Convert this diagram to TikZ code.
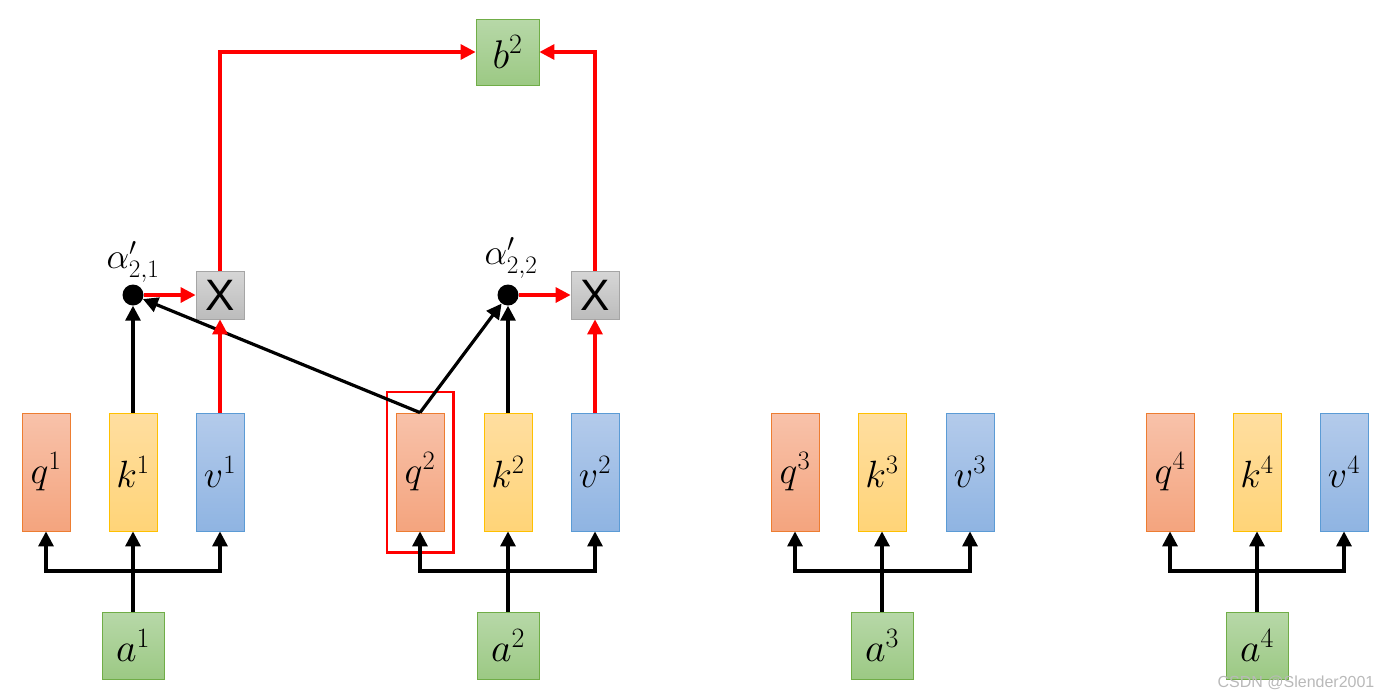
\RequirePackage{fix-cm}
\documentclass[tikz,border=0pt]{standalone}
\usepackage{amsmath, amssymb}
\usepackage{fontspec}
\setsansfont{Liberation Sans}
\usepackage{xcolor}
\usetikzlibrary{arrows.meta, positioning, fit}
\definecolor{qorange}{RGB}{237, 125, 49}
\definecolor{qtop}{RGB}{248, 194, 170}
\definecolor{qbot}{RGB}{244, 164, 126}
\definecolor{kyellow}{RGB}{255, 192, 0}
\definecolor{ktop}{RGB}{255, 222, 160}
\definecolor{kbot}{RGB}{255, 212, 120}
\definecolor{vblue}{RGB}{91, 155, 213}
\definecolor{vtop}{RGB}{180, 203, 235}
\definecolor{vbot}{RGB}{143, 180, 226}
\definecolor{agreen}{RGB}{112, 173, 71}
\definecolor{atop}{RGB}{183, 216, 168}
\definecolor{abot}{RGB}{156, 201, 132}
\definecolor{xgray}{RGB}{165, 165, 165}
\definecolor{xtop}{RGB}{214, 214, 214}
\definecolor{xbot}{RGB}{188, 188, 188}
\definecolor{linered}{RGB}{255, 0, 0}

\begin{document}
\begin{tikzpicture}[
    x=1pt, y=-1pt,
    vecbox/.style={rectangle, minimum width=48pt, minimum height=118pt, inner sep=0pt, line width=0.8pt, font=\fontsize{38}{40}\selectfont},
    qbox/.style={vecbox, draw=qorange, top color=qtop, bottom color=qbot},
    kbox/.style={vecbox, draw=kyellow, top color=ktop, bottom color=kbot},
    vbox/.style={vecbox, draw=vblue, top color=vtop, bottom color=vbot},
    abox/.style={rectangle, draw=agreen, top color=atop, bottom color=abot, line width=0.8pt, minimum width=62pt, minimum height=67pt, inner sep=0pt, font=\fontsize{40}{42}\selectfont},
    xbox/.style={rectangle, draw=xgray, top color=xtop, bottom color=xbot, line width=0.8pt, minimum width=48pt, minimum height=48pt, inner sep=0pt, font=\sffamily\fontsize{44}{44}\selectfont},
    dotnode/.style={circle, fill=black, minimum size=21pt, inner sep=0pt},
    alabel/.style={font=\fontsize{36}{38}\selectfont, inner sep=0pt},
    hilite/.style={rectangle, draw=linered, line width=2.2pt},
    conn/.style={-{Triangle[length=15pt, width=15pt]}, line width=3.2pt, black},
    redconn/.style={-{Triangle[length=15pt, width=15pt]}, line width=3.2pt, linered}
]
    \useasboundingbox (0,0) rectangle (1391,699);

    % Inputs
    \node[abox] (a1) at (133, 645.5) {$a^1$};
    \node[abox] (a2) at (508, 645.5) {$a^2$};
    \node[abox] (a3) at (882, 645.5) {$a^3$};
    \node[abox] (a4) at (1257, 645.5) {$a^4$};

    % q, k, v per input
    \node[qbox] (q1) at (46, 472) {$q^1$};
    \node[kbox] (k1) at (133, 472) {$k^1$};
    \node[vbox] (v1) at (220, 472) {$v^1$};

    \node[qbox] (q2) at (420, 472) {$q^2$};
    \node[kbox] (k2) at (508, 472) {$k^2$};
    \node[vbox] (v2) at (595, 472) {$v^2$};

    \node[qbox] (q3) at (795, 472) {$q^3$};
    \node[kbox] (k3) at (882, 472) {$k^3$};
    \node[vbox] (v3) at (970, 472) {$v^3$};

    \node[qbox] (q4) at (1170, 472) {$q^4$};
    \node[kbox] (k4) at (1257, 472) {$k^4$};
    \node[vbox] (v4) at (1344, 472) {$v^4$};

    \node[hilite, fit=(q2), inner xsep=9pt, inner ysep=21pt] (qsel) {};

    % Branch points
    \coordinate (j1) at (133, 571);
    \coordinate (j2) at (508, 571);
    \coordinate (j3) at (882, 571);
    \coordinate (j4) at (1257, 571);

    % Attention scores and weighting
    \node[dotnode] (s21) at (133, 295) {};
    \node[dotnode] (s22) at (508, 295) {};
    \node[alabel, above=2pt of s21] (s21lab) {$\alpha'_{2,1}$};
    \node[alabel, above=6pt of s22, xshift=3pt] (s22lab) {$\alpha'_{2,2}$};

    \node[xbox] (x1) at (220, 295) {X};
    \node[xbox] (x2) at (595, 295) {X};

    % Output
    \node[abox, minimum width=63pt, minimum height=66pt] (b2) at (507.5, 52) {$b^2$};

    % Connections: inputs to q, k, v
    \draw[conn] (a1.north) -- (k1.south);
    \draw[conn] (j1) -| (q1.south);
    \draw[conn] (j1) -| (v1.south);
    \draw[conn] (a2.north) -- (k2.south);
    \draw[conn] (j2) -| (q2.south);
    \draw[conn] (j2) -| (v2.south);
    \draw[conn] (a3.north) -- (k3.south);
    \draw[conn] (j3) -| (q3.south);
    \draw[conn] (j3) -| (v3.south);
    \draw[conn] (a4.north) -- (k4.south);
    \draw[conn] (j4) -| (q4.south);
    \draw[conn] (j4) -| (v4.south);

    % Connections: scores
    \draw[conn] (k1.north) -- (s21.south);
    \draw[conn] (k2.north) -- (s22.south);
    \draw[conn] (q2.north) -- (s21);
    \draw[conn] (q2.north) -- (s22);

    \draw[redconn] (v1.north) -- (x1.south);
    \draw[redconn] (v2.north) -- (x2.south);
    \draw[redconn] (s21.east) -- (x1.west);
    \draw[redconn] (s22.east) -- (x2.west);

    \draw[redconn] (x1.north) |- (b2.west);
    \draw[redconn] (x2.north) |- (b2.east);

    \node[font=\sffamily\fontsize{16}{16}\selectfont, text=gray!55] (mark) at (1296, 683) {CSDN @Slender2001};

\end{tikzpicture}
\end{document}
